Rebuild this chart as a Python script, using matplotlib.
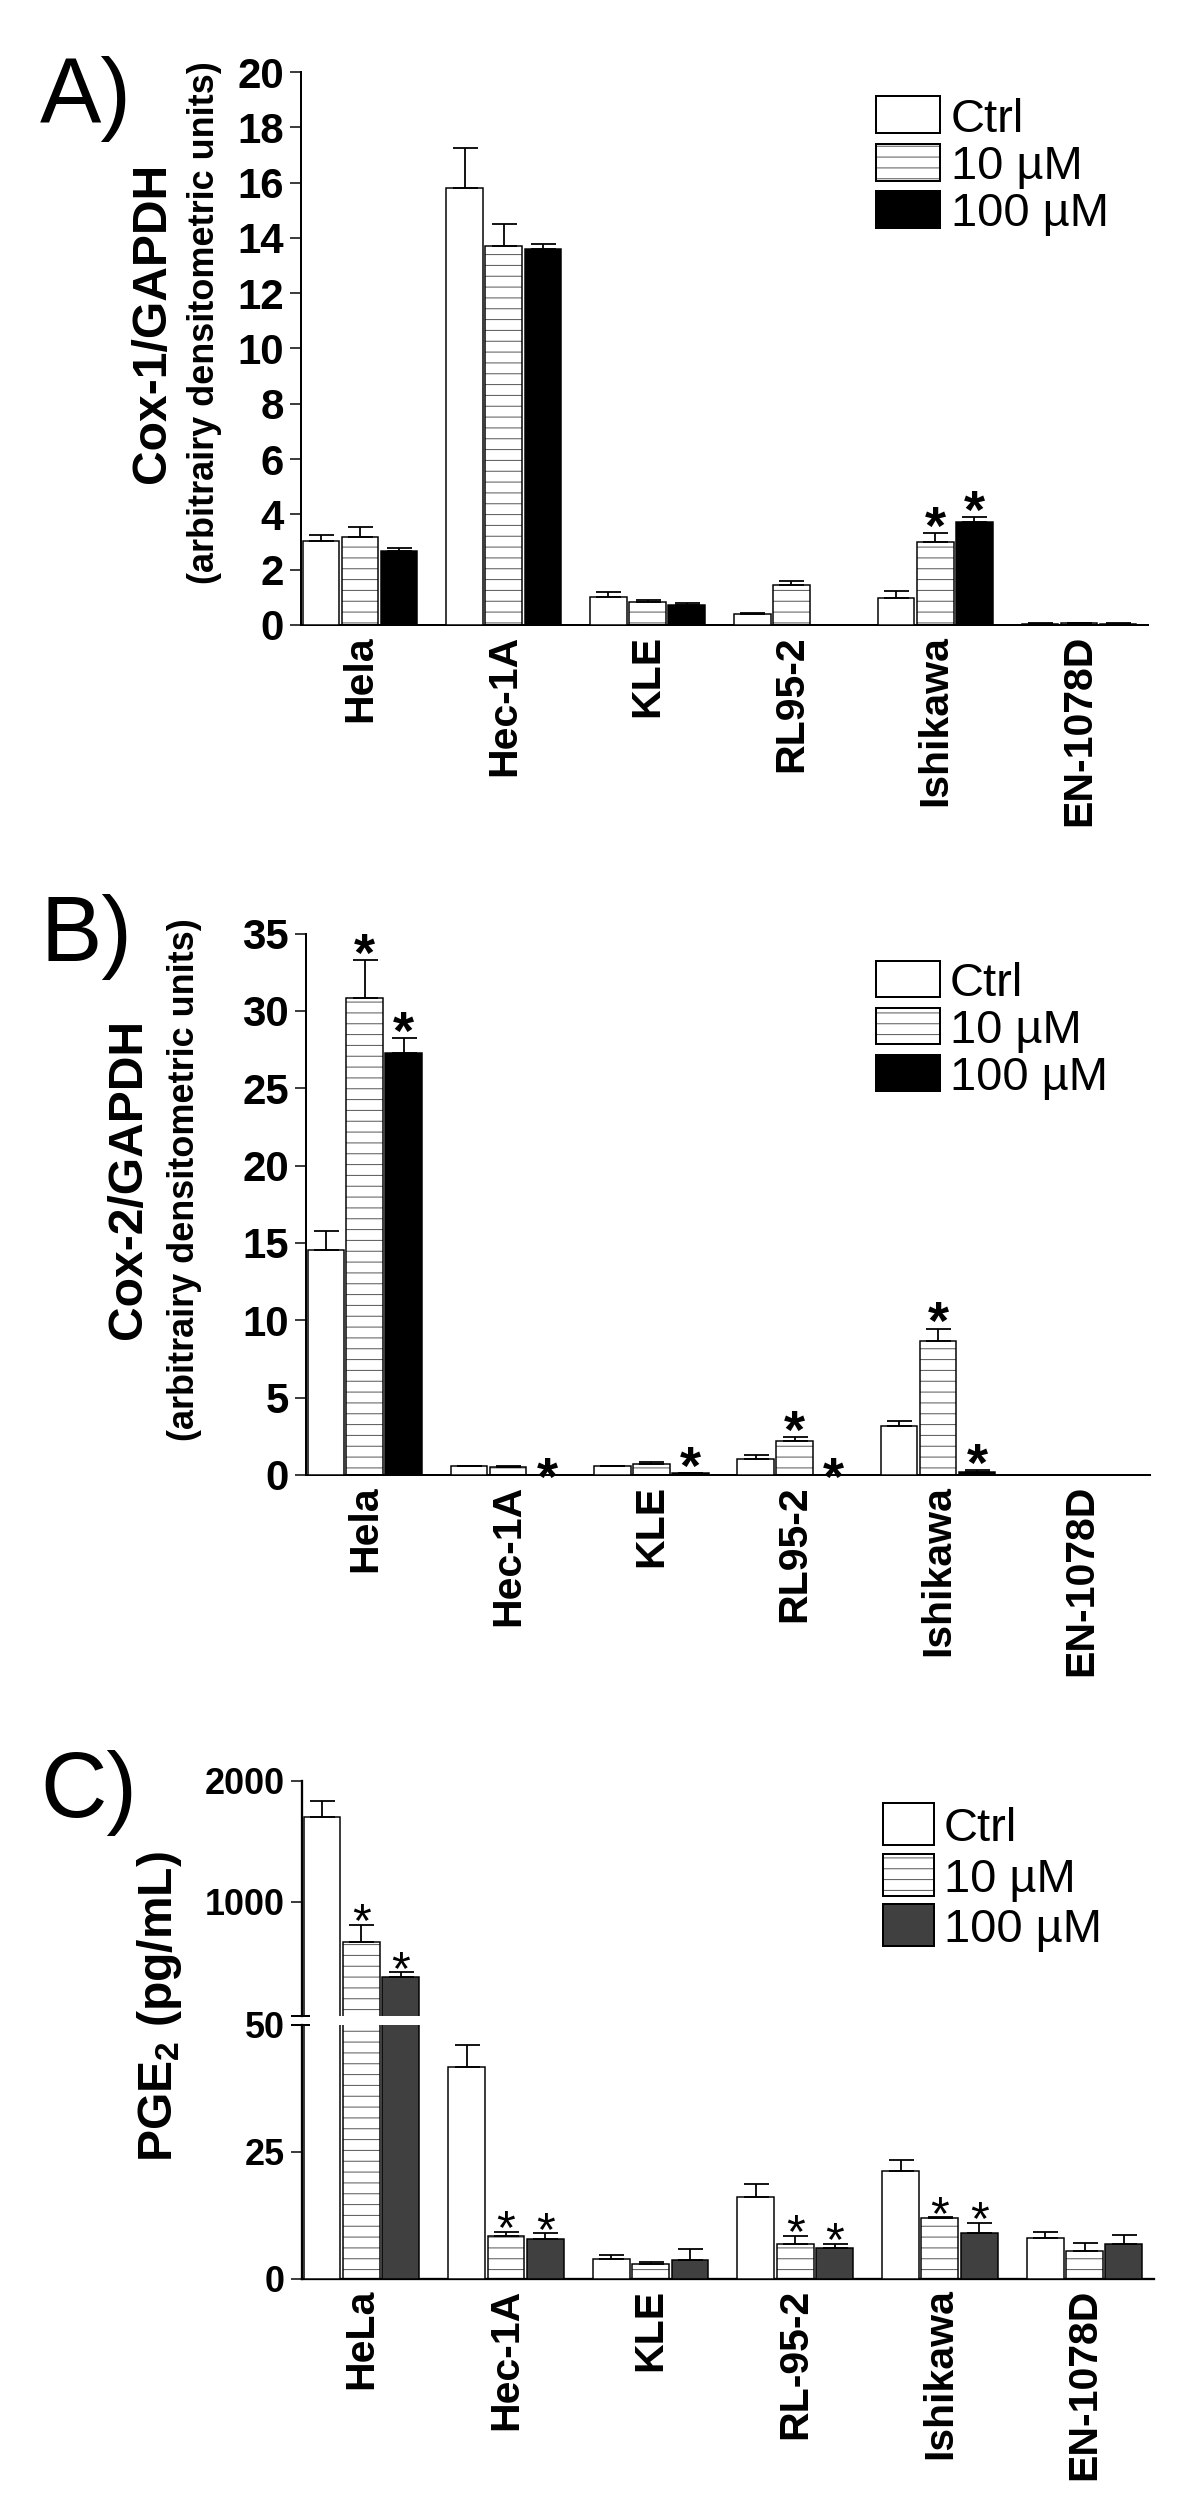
import numpy as np
import matplotlib
matplotlib.use("Agg")
import matplotlib.pyplot as plt
from matplotlib.patches import Rectangle

# ---- data ----
cells_ab = ["Hela", "Hec-1A", "KLE", "RL95-2", "Ishikawa", "EN-1078D"]
cells_c = ["HeLa", "Hec-1A", "KLE", "RL-95-2", "Ishikawa", "EN-1078D"]
series = ["Ctrl", "10 \u00b5M", "100 \u00b5M"]

# A) Cox-1/GAPDH
cox1_ctrl = [3.04, 15.82, 1.02, 0.39, 0.98, 0.05]
cox1_ctrl_err = [0.21, 1.43, 0.19, 0.03, 0.25, 0.01]
cox1_10 = [3.17, 13.69, 0.84, 1.44, 3.01, 0.06]
cox1_10_err = [0.37, 0.83, 0.08, 0.15, 0.30, 0.01]
cox1_100 = [2.69, 13.60, 0.74, 0.0, 3.73, 0.05]
cox1_100_err = [0.11, 0.17, 0.04, 0.0, 0.18, 0.01]
cox1_star_10 = [0, 0, 0, 0, 1, 0]
cox1_star_100 = [0, 0, 0, 0, 1, 0]

# B) Cox-2/GAPDH
cox2_ctrl = [14.54, 0.56, 0.56, 1.05, 3.17, 0.0]
cox2_ctrl_err = [1.26, 0.02, 0.02, 0.22, 0.31, 0.0]
cox2_10 = [30.8, 0.53, 0.74, 2.22, 8.69, 0.0]
cox2_10_err = [2.48, 0.02, 0.10, 0.21, 0.77, 0.0]
cox2_100 = [27.3, 0.0, 0.10, 0.0, 0.21, 0.0]
cox2_100_err = [0.94, 0.0, 0.03, 0.0, 0.09, 0.0]
cox2_star_10 = [1, 0, 0, 1, 1, 0]
cox2_star_100 = [1, 1, 1, 1, 1, 0]

# C) PGE2 (pg/mL)
pge_ctrl = [1704, 41.7, 3.9, 16.0, 21.2, 8.0]
pge_ctrl_err = [127, 4.3, 0.7, 2.6, 2.2, 1.2]
pge_10 = [665, 8.4, 2.9, 6.8, 11.9, 5.5]
pge_10_err = [140, 0.8, 0.4, 1.6, 0.15, 1.6]
pge_100 = [376, 7.7, 3.7, 6.1, 9.0, 6.9]
pge_100_err = [35, 1.2, 2.1, 0.8, 2.0, 1.7]
pge_star_10 = [1, 1, 0, 1, 1, 0]
pge_star_100 = [1, 1, 0, 1, 1, 0]

# ---- style ----
DPI = 130
W, H = 1200, 2501
plt.rcParams['font.family'] = ['Liberation Sans', 'DejaVu Sans']
plt.rcParams['hatch.linewidth'] = 0.55
HATCH_C = '#585858'
OFFS = np.array([-0.272, 0.0, 0.272])
BAR_W = 0.255
XLIM = (-0.41, 5.48)


def pt(px):
    return px * 72.0 / DPI


fig = plt.figure(figsize=(W / DPI, H / DPI), dpi=DPI)


def axes_px(left, top, right, bottom):
    return fig.add_axes([left / W, 1 - bottom / H, (right - left) / W, (bottom - top) / H])


def draw_bars(ax, vals, errs, fills, hatched, lo=-np.inf, hi=np.inf):
    x = np.arange(len(vals[0]))
    for k in range(3):
        xs = x + OFFS[k]
        v = np.array(vals[k], float)
        e = np.array(errs[k], float)
        if hatched[k]:
            ax.bar(xs, v, BAR_W, color='white', edgecolor=HATCH_C, hatch='--', linewidth=0, zorder=2)
            ax.bar(xs, v, BAR_W, fill=False, edgecolor='black', linewidth=pt(1.5), zorder=3)
        else:
            ax.bar(xs, v, BAR_W, color=fills[k], edgecolor='black', linewidth=pt(1.5), zorder=3)
        # only error bars that fall inside this axis segment
        m = (v >= lo) & (v + e <= hi)
        if m.any():
            ax.errorbar(xs[m], v[m], yerr=[np.zeros(m.sum()), e[m]], fmt='none', ecolor='black',
                        elinewidth=pt(1.8), capsize=pt(12.5), capthick=pt(1.8), zorder=4)


def draw_stars(ax, vals, errs, flags, k, size_px, gap_px, lo, hi, weight='normal'):
    size = pt(size_px)
    for i, f in enumerate(flags):
        if not f:
            continue
        top = vals[i] + errs[i]
        if not (lo <= top <= hi):
            continue
        gap = gap_px if vals[i] > 0 else 3
        ax.annotate('*', xy=(i + OFFS[k], top), xytext=(0, pt(gap) - 0.42 * size),
                    textcoords='offset points', ha='center', va='baseline',
                    fontsize=size, fontweight=weight, annotation_clip=False, zorder=5)


def style(ax, spine_px):
    ax.set_xlim(*XLIM)
    for s in ['top', 'right']:
        ax.spines[s].set_visible(False)
    for s in ['left', 'bottom']:
        ax.spines[s].set_linewidth(pt(spine_px))
    ax.tick_params(axis='y', length=pt(11), width=pt(1.5), pad=pt(6), direction='out')
    ax.tick_params(axis='x', length=0, pad=pt(10))


def xlabels(ax, labels):
    ax.set_xticks(range(len(labels)))
    ax.set_xticklabels(labels, rotation=90, fontweight='bold', fontsize=pt(41))


def legend(left, top0, pitch, bw, bh, text_x, fills, hatched):
    for k in range(3):
        top = top0 + k * pitch
        xy = (left / W, 1 - (top + bh) / H)
        w, h = bw / W, bh / H
        if hatched[k]:
            fig.add_artist(Rectangle(xy, w, h, transform=fig.transFigure, facecolor='white',
                                     edgecolor=HATCH_C, hatch='--', linewidth=0))
            fig.add_artist(Rectangle(xy, w, h, transform=fig.transFigure, fill=False,
                                     edgecolor='black', linewidth=pt(2)))
        else:
            fig.add_artist(Rectangle(xy, w, h, transform=fig.transFigure, facecolor=fills[k],
                                     edgecolor='black', linewidth=pt(2)))
        fig.text(text_x / W, 1 - (top + bh / 2 + 17) / H, series[k], fontsize=pt(47),
                 ha='left', va='baseline')


hatched = [False, True, False]

# ---- A ----
axA = axes_px(301, 72, 1148, 625)
draw_bars(axA, [cox1_ctrl, cox1_10, cox1_100], [cox1_ctrl_err, cox1_10_err, cox1_100_err],
          ['white', 'white', 'black'], hatched)
draw_stars(axA, cox1_10, cox1_10_err, cox1_star_10, 1, 54, 12, 0, 20, 'bold')
draw_stars(axA, cox1_100, cox1_100_err, cox1_star_100, 2, 54, 12, 0, 20, 'bold')
style(axA, 2)
axA.set_ylim(0, 20)
axA.set_yticks(range(0, 21, 2), labels=[str(t) for t in range(0, 21, 2)],
               fontweight='bold', fontsize=pt(42))
xlabels(axA, cells_ab)
fig.text(40 / W, 1 - 123 / H, 'A)', fontsize=pt(92), ha='left', va='baseline')
fig.text(152 / W, 1 - 323 / H, 'Cox-1/GAPDH', rotation=90, ha='center', va='center',
         fontweight='bold', fontsize=pt(48))
fig.text(205 / W, 1 - 323 / H, '(arbitrairy densitometric units)', rotation=90,
         ha='center', va='center', fontweight='bold', fontsize=pt(36))
legend(876, 96, 47.5, 64, 37, 951, ['white', 'white', 'black'], hatched)

# ---- B ----
axB = axes_px(306, 933.5, 1150, 1475)
draw_bars(axB, [cox2_ctrl, cox2_10, cox2_100], [cox2_ctrl_err, cox2_10_err, cox2_100_err],
          ['white', 'white', 'black'], hatched)
draw_stars(axB, cox2_10, cox2_10_err, cox2_star_10, 1, 54, 12, 0, 35, 'bold')
draw_stars(axB, cox2_100, cox2_100_err, cox2_star_100, 2, 54, 12, 0, 35, 'bold')
style(axB, 2)
axB.set_ylim(0, 35)
axB.set_yticks(range(0, 36, 5), labels=[str(t) for t in range(0, 36, 5)],
               fontweight='bold', fontsize=pt(42))
xlabels(axB, cells_ab)
fig.text(40 / W, 1 - 961 / H, 'B)', fontsize=pt(92), ha='left', va='baseline')
fig.text(128 / W, 1 - 1179 / H, 'Cox-2/GAPDH', rotation=90, ha='center', va='center',
         fontweight='bold', fontsize=pt(48))
fig.text(185 / W, 1 - 1180 / H, '(arbitrairy densitometric units)', rotation=90,
         ha='center', va='center', fontweight='bold', fontsize=pt(36))
legend(876, 961, 47, 64, 36, 950, ['white', 'white', 'black'], hatched)

# ---- C (broken axis) ----
c_fills = ['white', 'white', '#404040']
pge_vals = [pge_ctrl, pge_10, pge_100]
pge_errs = [pge_ctrl_err, pge_10_err, pge_100_err]
axCu = axes_px(302, 1781, 1154, 2016)
axCl = axes_px(302, 2024.6, 1154, 2278.6)
for ax, lo, hi in [(axCu, 50, 2000), (axCl, 0, 50)]:
    draw_bars(ax, pge_vals, pge_errs, c_fills, hatched, lo, hi)
    draw_stars(ax, pge_10, pge_10_err, pge_star_10, 1, 48, 9, lo, hi)
    draw_stars(ax, pge_100, pge_100_err, pge_star_100, 2, 48, 9, lo, hi)
    style(ax, 2.3)
    ax.set_ylim(lo, hi)
    axw = 852.0
    ax.plot([-11 / axw, 8 / axw], [50, 50], transform=ax.get_yaxis_transform(),
            color='black', lw=pt(2), clip_on=False, solid_capstyle='butt', zorder=6)
axCu.spines['bottom'].set_visible(False)
axCu.set_xticks([])
axCu.set_yticks([1000, 2000], labels=['1000', '2000'], fontweight='bold', fontsize=pt(36))
axCl.set_yticks([0, 25, 50], labels=['0', '25', '50'], fontweight='bold', fontsize=pt(36))
xlabels(axCl, cells_c)
fig.text(40 / W, 1 - 1817 / H, 'C)', fontsize=pt(92), ha='left', va='baseline')
fig.text(160 / W, 1 - 2007 / H, r'PGE$_\mathregular{2}$ (pg/mL)', rotation=90,
         ha='center', va='center', fontweight='bold', fontsize=pt(48))
legend(883, 1803, 50.5, 51, 42, 944, c_fills, hatched)

fig.savefig('out.png', dpi=DPI)
